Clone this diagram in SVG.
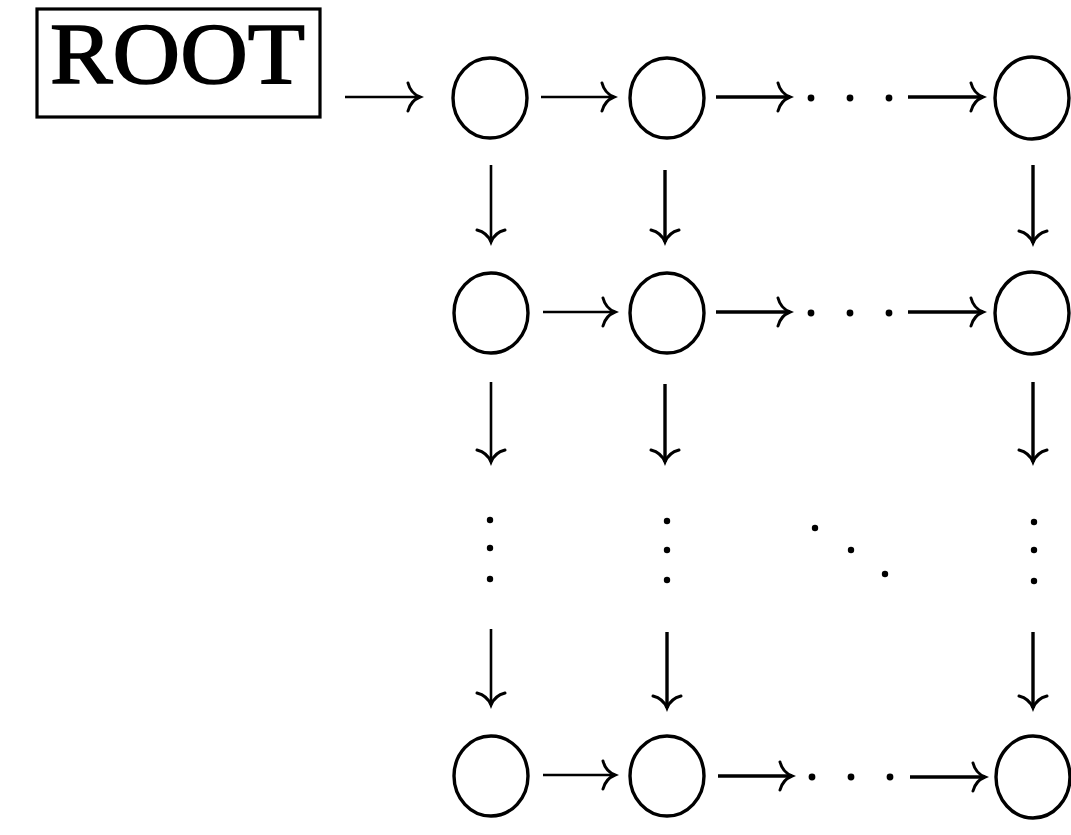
<svg xmlns="http://www.w3.org/2000/svg" width="1071" height="835" viewBox="0 0 1071 835">
<style>
.node{fill:none;stroke:#000;stroke-width:3.4}
.box{fill:none;stroke:#000;stroke-width:3.2}
.lbl{font-family:"Liberation Serif","Times New Roman",serif;font-size:86px;fill:#000;stroke:#000;stroke-width:1.6}
.arr{fill:none;stroke:#000;stroke-width:2.6;marker-end:url(#ah)}
.thick{stroke-width:3.4}
.dot{fill:#000}
</style>
<defs>
<marker id="ah" viewBox="-16 -16 20 32" refX="0" refY="0" markerWidth="20" markerHeight="32" orient="auto" markerUnits="userSpaceOnUse">
<path d="M-12,-14 C-10,-6 -5,-2 0,0 C-5,2 -10,6 -12,14" fill="none" stroke="#000" stroke-width="3" stroke-linecap="round"/>
</marker>
</defs>
<rect width="1071" height="835" fill="#fff"/>
<g id="root">
<rect class="box" x="37" y="9" width="283" height="108"/>
<text class="lbl" x="50" y="83" textLength="255" lengthAdjust="spacingAndGlyphs">ROOT</text>
</g>
<g id="n11"><ellipse class="node" cx="490" cy="98" rx="37" ry="40"/></g>
<g id="n12"><ellipse class="node" cx="667" cy="98" rx="37" ry="40"/></g>
<g id="n13"><ellipse class="node" cx="1032" cy="98" rx="37" ry="41"/></g>
<g id="n21"><ellipse class="node" cx="491" cy="313" rx="37" ry="40"/></g>
<g id="n22"><ellipse class="node" cx="667" cy="313" rx="37" ry="40"/></g>
<g id="n23"><ellipse class="node" cx="1032" cy="313" rx="37" ry="41"/></g>
<g id="n31"><ellipse class="node" cx="491" cy="776" rx="37" ry="40"/></g>
<g id="n32"><ellipse class="node" cx="667" cy="776" rx="37" ry="40"/></g>
<g id="n33"><ellipse class="node" cx="1033" cy="777" rx="37" ry="41"/></g>
<g id="connectors">
<line class="arr" x1="345" y1="97" x2="420" y2="97"/>
<line class="arr" x1="541" y1="97" x2="614" y2="97"/>
<line class="arr thick" x1="716" y1="97" x2="790" y2="97"/>
<line class="arr thick" x1="908" y1="97" x2="983" y2="97"/>
<line class="arr" x1="543" y1="312" x2="615" y2="312"/>
<line class="arr thick" x1="716" y1="312" x2="790" y2="312"/>
<line class="arr thick" x1="908" y1="312" x2="983" y2="312"/>
<line class="arr" x1="543" y1="775" x2="615" y2="775"/>
<line class="arr thick" x1="718" y1="776" x2="792" y2="776"/>
<line class="arr thick" x1="910" y1="777" x2="985" y2="777"/>
<line class="arr" x1="491" y1="165" x2="491" y2="242"/>
<line class="arr thick" x1="665" y1="170" x2="665" y2="242"/>
<line class="arr thick" x1="1033" y1="165" x2="1033" y2="243"/>
<line class="arr" x1="491" y1="382" x2="491" y2="462"/>
<line class="arr thick" x1="665" y1="384" x2="665" y2="462"/>
<line class="arr thick" x1="1033" y1="382" x2="1033" y2="462"/>
<line class="arr" x1="491" y1="629" x2="491" y2="705"/>
<line class="arr thick" x1="667" y1="632" x2="667" y2="708"/>
<line class="arr thick" x1="1033" y1="632" x2="1033" y2="708"/>
</g>
<g id="ellipses">
<circle class="dot" cx="811" cy="98" r="3.4"/><circle class="dot" cx="850" cy="98" r="3.4"/><circle class="dot" cx="889" cy="98" r="3.4"/>
<circle class="dot" cx="811" cy="313" r="3.4"/><circle class="dot" cx="850" cy="313" r="3.4"/><circle class="dot" cx="889" cy="313" r="3.4"/>
<circle class="dot" cx="812" cy="777" r="3.4"/><circle class="dot" cx="851" cy="777" r="3.4"/><circle class="dot" cx="890" cy="777" r="3.4"/>
<circle class="dot" cx="490" cy="520" r="3.2"/><circle class="dot" cx="490" cy="548" r="3.2"/><circle class="dot" cx="490" cy="579" r="3.2"/>
<circle class="dot" cx="667" cy="521" r="3.2"/><circle class="dot" cx="667" cy="550" r="3.2"/><circle class="dot" cx="667" cy="580" r="3.2"/>
<circle class="dot" cx="815" cy="528" r="3.2"/><circle class="dot" cx="851" cy="550" r="3.2"/><circle class="dot" cx="885" cy="574" r="3.2"/>
<circle class="dot" cx="1034" cy="522" r="3.2"/><circle class="dot" cx="1034" cy="550" r="3.2"/><circle class="dot" cx="1034" cy="581" r="3.2"/>
</g>
</svg>
